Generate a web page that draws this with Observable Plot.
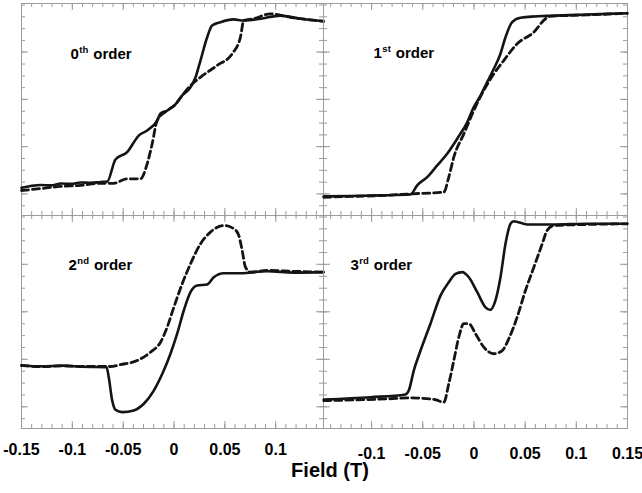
<!DOCTYPE html>
<html>
<head>
<meta charset="utf-8">
<script src="https://cdn.jsdelivr.net/npm/d3@7"></script>
<script src="https://cdn.jsdelivr.net/npm/@observablehq/plot@0.6"></script>
<style>
  body { margin: 0; background: #fff; }
  #chart { position: relative; width: 642px; height: 493px; font-family: "Liberation Sans", Arial, Helvetica, sans-serif; }
  #chart .p { position: absolute; }
  #xlabel { position: absolute; left: 230px; width: 200px; top: 460px; text-align: center; font-weight: bold; font-size: 20px; line-height: 20px; color: #000; }
</style>
</head>
<body>
<div id="chart"><div id="xlabel">Field (T)</div></div>
<script>
// ---- data (x in tesla, y in arbitrary units 0..100) ----
const solid0 = [[-0.150,13.1],[-0.141,13.9],[-0.131,14.4],[-0.121,14.2],[-0.111,15.1],[-0.101,14.9],[-0.092,15.6],[-0.082,15.4],[-0.072,15.8],[-0.0657,16.0],[-0.0576,26.4],[-0.0461,29.9],[-0.0347,37.7],[-0.0264,40.1],[-0.0166,44.8],[-0.0133,48.1],[-0.0067,49.5],[0.0014,52.4],[0.0080,56.6],[0.0162,60.5],[0.0211,65.1],[0.0260,73.1],[0.0326,84.1],[0.0375,89.6],[0.0457,91.2],[0.0585,92.5],[0.0683,92.0],[0.085,92.8],[0.1046,94.3],[0.1243,92.8],[0.147,91.6]];
const dashed0 = [[-0.150,11.8],[-0.131,12.7],[-0.112,13.7],[-0.092,14.2],[-0.0723,15.2],[-0.0595,15.2],[-0.0461,17.3],[-0.033,17.3],[-0.0264,24.4],[-0.0215,33.8],[-0.0166,44.8],[-0.0067,49.5],[0.0014,52.4],[0.008,56.6],[0.0162,61.3],[0.026,65.2],[0.0424,70.8],[0.0572,76.3],[0.0653,84.1],[0.0686,92.0],[0.0781,92.8],[0.0948,95.1],[0.1145,93.5],[0.147,91.6]];
const solid1 = [[-0.1467,9.0],[-0.1206,9.2],[-0.0917,9.5],[-0.062,9.9],[-0.0555,14.2],[-0.0457,18.1],[-0.0359,23.6],[-0.0262,29.1],[-0.0164,36.2],[-0.0066,44.0],[-0.0002,51.1],[0.0064,56.6],[0.0129,62.9],[0.0194,69.2],[0.0259,76.3],[0.0308,84.1],[0.0373,91.2],[0.0455,93.3],[0.0781,94.3],[0.1106,94.8],[0.1497,95.4]];
const dashed1 = [[-0.1467,8.6],[-0.1206,9.0],[-0.0917,9.4],[-0.062,10.2],[-0.0295,11.0],[-0.0246,18.1],[-0.0197,27.5],[-0.0099,38.5],[-0.0002,49.5],[0.0096,59.0],[0.0194,66.8],[0.0291,73.1],[0.0422,81.0],[0.0585,86.5],[0.0699,92.8],[0.0749,94.0],[0.1106,94.6],[0.1497,95.4]];
const solid2 = [[-0.15,29.6],[-0.13,29.2],[-0.11,29.5],[-0.09,29.0],[-0.0664,28.8],[-0.0642,24.1],[-0.0608,13.1],[-0.0576,8.8],[-0.051,7.7],[-0.0396,8.5],[-0.0297,11.6],[-0.0199,17.8],[-0.0101,27.2],[-0.0035,35.1],[0.0031,44.5],[0.0096,55.4],[0.0162,64.0],[0.0228,67.1],[0.0326,67.6],[0.0391,71.0],[0.0489,72.9],[0.0653,72.9],[0.0916,73.8],[0.1177,73.2],[0.1472,73.4]];
const dashed2 = [[-0.15,29.6],[-0.13,29.0],[-0.11,29.4],[-0.09,29.1],[-0.0625,29.1],[-0.0527,30.0],[-0.0362,31.9],[-0.0232,35.8],[-0.0133,40.5],[-0.0067,47.6],[-0.0002,56.9],[0.008,67.9],[0.0162,77.3],[0.026,86.7],[0.0358,92.2],[0.0489,95.3],[0.0588,93.8],[0.0637,90.6],[0.067,83.6],[0.0703,75.7],[0.0752,73.4],[0.0916,74.2],[0.1177,73.8],[0.1472,73.4]];
const solid3 = [[-0.1467,13.6],[-0.1011,14.7],[-0.0669,16.0],[-0.0637,17.8],[-0.0588,27.2],[-0.0522,36.6],[-0.0425,49.2],[-0.0327,62.4],[-0.0246,68.7],[-0.018,72.6],[-0.0115,73.4],[-0.005,71.0],[0.0032,64.0],[0.0113,56.9],[0.0161,55.7],[0.021,60.1],[0.0259,71.0],[0.0308,86.7],[0.0357,96.1],[0.0389,97.3],[0.052,95.8],[0.078,95.8],[0.1106,96.1],[0.1497,96.1]];
const dashed3 = [[-0.1467,13.1],[-0.0848,13.9],[-0.062,14.4],[-0.0376,13.5],[-0.0295,12.3],[-0.0246,21.0],[-0.0197,31.9],[-0.0148,42.9],[-0.0099,49.2],[-0.005,49.2],[0.0015,44.5],[0.0096,38.2],[0.0194,35.1],[0.0276,36.6],[0.034,42.1],[0.0422,52.3],[0.0503,64.8],[0.0585,75.7],[0.0667,86.7],[0.0715,93.0],[0.078,95.3],[0.1106,95.8],[0.1497,96.1]];

const orderNums = ["0", "1", "2", "3"];
const orderSups = ["th", "st", "nd", "rd"];
const orderWord = "order";

const xTicksLeft = [-0.15, -0.1, -0.05, 0, 0.05, 0.1];
const xLabelsLeft = ["-0.15", "-0.1", "-0.05", "0", "0.05", "0.1"];
const xTicksRight = [-0.1, -0.05, 0, 0.05, 0.1, 0.15];
const xLabelsRight = ["-0.1", "-0.05", "0", "0.05", "0.1", "0.15"];
const xMajorTicks = [-0.15, -0.1, -0.05, 0, 0.05, 0.1, 0.15];
const xMinorTicks = d3.range(-15, 16).map(i => i / 100);
const yMinorTicks = d3.range(0, 18).map(i => 4.6 + i * 5.57);
const yMajorTicks = [10.2, 32.5, 54.8, 77.1];

const xDomainLeft = [-0.15, 0.147];
const xDomainRight = [-0.147, 0.15];
const yDomain = [0, 100];

const gray = "#9c9c9c";
const ink = "#141414";

const panels = [
  {solid: solid0, dashed: dashed0, k: 0, left: 20, top: 2, w: 302, h: 212, dom: xDomainLeft, lx: 49, ly: 44.5},
  {solid: solid1, dashed: dashed1, k: 1, left: 322, top: 2, w: 304, h: 212, dom: xDomainRight, lx: 50, ly: 43.5},
  {solid: solid2, dashed: dashed2, k: 2, left: 20, top: 214, w: 302, h: 213, dom: xDomainLeft, lx: 47, ly: 43.5, ticks: xTicksLeft, labels: xLabelsLeft, pad: 21},
  {solid: solid3, dashed: dashed3, k: 3, left: 322, top: 214, w: 304, h: 213, dom: xDomainRight, lx: 27, ly: 43.5, ticks: xTicksRight, labels: xLabelsRight, pad: 25}
];

const chart = document.getElementById("chart");
const NS = "http://www.w3.org/2000/svg";

for (const p of panels) {
  const mb = p.ticks ? 50 : 1;
  const inDom = v => v >= p.dom[0] - 1e-9 && v <= p.dom[1] + 1e-9;
  const xm = xMinorTicks.filter(inDom);
  const xM = xMajorTicks.filter(inDom);
  const labelText = orderNums[p.k] + orderSups[p.k] + " " + orderWord;
  const marks = [
    Plot.tickX(xm, {x: d => d, stroke: gray, insetBottom: p.h - 4}),
    Plot.tickX(xm, {x: d => d, stroke: gray, insetTop: p.h - 4}),
    Plot.tickX(xM, {x: d => d, stroke: gray, insetBottom: p.h - 7}),
    Plot.tickX(xM, {x: d => d, stroke: gray, insetTop: p.h - 7}),
    Plot.tickY(yMinorTicks, {y: d => d, stroke: gray, insetRight: p.w - 4}),
    Plot.tickY(yMinorTicks, {y: d => d, stroke: gray, insetLeft: p.w - 4}),
    Plot.tickY(yMajorTicks, {y: d => d, stroke: gray, insetRight: p.w - 7}),
    Plot.tickY(yMajorTicks, {y: d => d, stroke: gray, insetLeft: p.w - 7}),
    Plot.frame({stroke: gray}),
    Plot.line(p.dashed, {stroke: ink, strokeWidth: 2.8, strokeDasharray: "7,4", curve: "monotone-x"}),
    Plot.line(p.solid, {stroke: ink, strokeWidth: 2.6, curve: "monotone-x"}),
    Plot.text([labelText], {frameAnchor: "top-left", dx: p.lx, dy: p.ly, text: d => d,
      textAnchor: "start", fontSize: 15, fontWeight: "bold", fill: "#000"})
  ];
  if (p.ticks) {
    const lab = new Map(p.ticks.map((t, i) => [t, p.labels[i]]));
    marks.push(Plot.text(p.ticks, {x: d => d, frameAnchor: "bottom", dy: p.pad, text: d => lab.get(d),
      fontSize: 16, fontWeight: "bold", fill: "#000", textAnchor: "middle", lineAnchor: "middle"}));
  }
  const svg = Plot.plot({
    width: p.w + 2, height: p.h + 1 + mb,
    marginTop: 1, marginLeft: 1, marginRight: 1, marginBottom: mb,
    x: {domain: p.dom, axis: null},
    y: {domain: yDomain, axis: null},
    style: {background: "transparent", overflow: "visible", fontFamily: "'Liberation Sans', Arial, Helvetica, sans-serif"},
    marks
  });
  // superscript in the order label
  for (const t of svg.querySelectorAll("text")) {
    if (t.textContent === labelText) {
      while (t.firstChild) t.removeChild(t.firstChild);
      const a = document.createElementNS(NS, "tspan"); a.textContent = orderNums[p.k];
      const b = document.createElementNS(NS, "tspan"); b.textContent = orderSups[p.k];
      b.setAttribute("font-size", "9.5"); b.setAttribute("dy", "-6"); b.setAttribute("dx", "0.5");
      const c = document.createElementNS(NS, "tspan"); c.textContent = orderWord;
      c.setAttribute("dy", "6"); c.setAttribute("dx", "5");
      t.append(a, b, c);
    }
  }
  const div = document.createElement("div");
  div.className = "p";
  div.style.left = p.left + "px";
  div.style.top = p.top + "px";
  div.appendChild(svg);
  chart.appendChild(div);
}
</script>
</body>
</html>
